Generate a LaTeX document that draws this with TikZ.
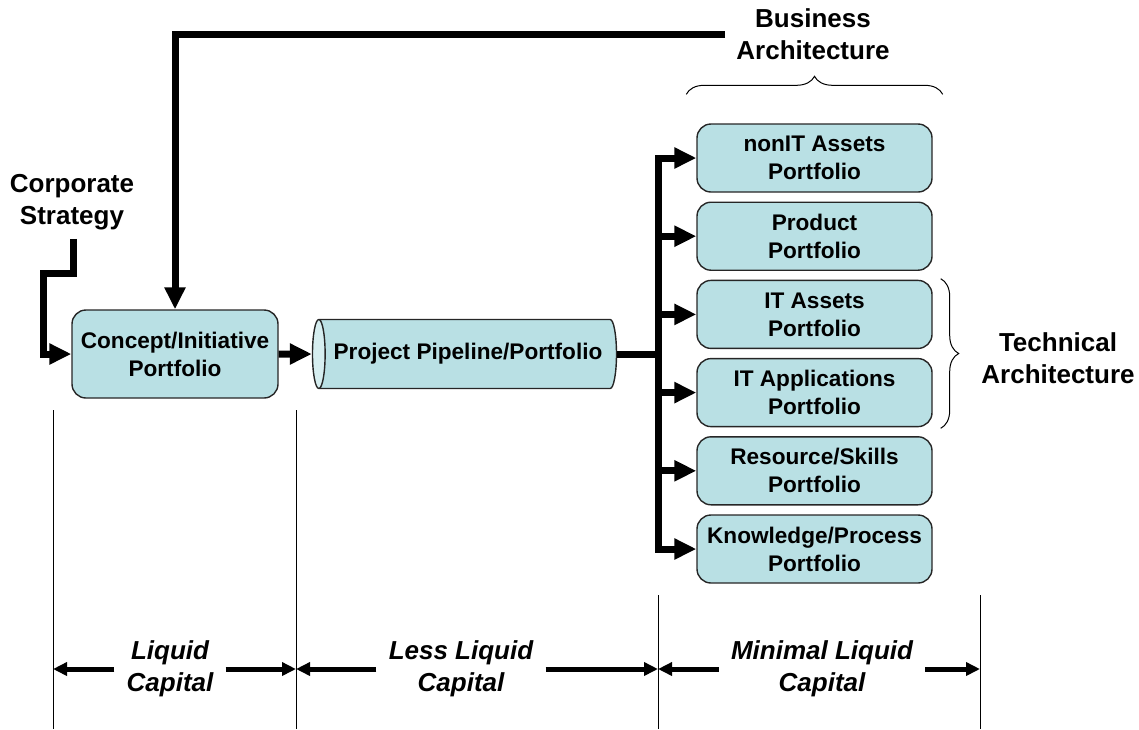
\documentclass[tikz,border=0pt]{standalone}
\usepackage{fontspec}
\setmainfont{Liberation Sans}
\usetikzlibrary{positioning,arrows.meta,shapes.geometric,decorations.pathreplacing}
\definecolor{portfill}{RGB}{185,224,228}
\definecolor{pipeend}{RGB}{214,238,240}
\tikzset{%
  >={Triangle[length=11pt,width=10pt]},
  portbox/.style={draw=black!85,fill=portfill,rounded corners=7pt,line width=0.7pt,
    align=center,font=\bfseries\fontsize{11.3}{14}\selectfont,
    minimum width=117.5pt,minimum height=34pt,inner sep=0pt},
  flow/.style={line width=3.5pt},
  spanarrow/.style={line width=2.5pt,-{Triangle[length=7pt,width=6.5pt]}},
  divider/.style={line width=0.5pt},
  heading/.style={align=center,font=\bfseries\fontsize{13}{16}\selectfont},
  caplabel/.style={align=center,font=\bfseries\itshape\fontsize{13}{16}\selectfont,
    inner xsep=6pt},
  archbrace/.style={decorate,decoration={brace,amplitude=9pt},line width=0.5pt}
}

\begin{document}
\begin{tikzpicture}[x=0.5pt,y=-0.5pt]
\useasboundingbox (0,0) rectangle (1139,729);

%% the portfolios
\node[portbox,minimum width=103pt,minimum height=44pt] (concept) at (175,354)
  {Concept/Initiative\\Portfolio};
\node[cylinder,shape border rotate=180,draw=black!85,line width=0.7pt,
  cylinder uses custom fill,cylinder body fill=portfill,cylinder end fill=pipeend,
  aspect=0.6,minimum width=34.5pt,minimum height=152pt,inner sep=0pt,
  font=\bfseries\fontsize{11.3}{14}\selectfont] (pipe) at (468,354)
  {Project Pipeline/Portfolio};
\foreach \name/\txt [count=\i from 0] in {%
    nonit/{nonIT Assets\\Portfolio},
    product/{Product\\Portfolio},
    itassets/{IT Assets\\Portfolio},
    itapps/{IT Applications\\Portfolio},
    resskill/{Resource/Skills\\Portfolio},
    knowproc/{Knowledge/Process\\Portfolio}}
  \node[portbox] (\name) at (814.5,{158+78.2*\i}) {\txt};

%% labels
\node[heading] (corp) at (72,202) {Corporate\\Strategy};
\node[heading] (bizarch) at (813,34) {Business\\Architecture};
\node[heading] (techarch) at (1058,358) {Technical\\Architecture};

%% strategy inputs
\coordinate (corpjog) at (73,273);
\coordinate (corpleft) at (43,273);
\draw[flow,->] ([yshift=-1pt]corp.south -| corpjog) -- (corpjog) -- (corpleft)
  |- (concept.west);
\coordinate (bizend) at (725,34);
\draw[flow,->] (bizend) -| (concept.north);

%% pipeline flow
\draw[flow,->] (concept.east) -- (pipe.west);
\coordinate (busmid) at (658,354);
\draw[flow] (pipe.east) -- (busmid);
\draw[flow,line cap=rect] (nonit.west -| busmid) -- (knowproc.west -| busmid);
\foreach \name in {nonit,product,itassets,itapps,resskill,knowproc}
  \draw[flow,->] (\name.west -| busmid) -- (\name.west);

%% braces
\draw[archbrace] ([xshift=-5pt,yshift=14.5pt]nonit.north west)
  -- ([xshift=5pt,yshift=14.5pt]nonit.north east);
\draw[archbrace] ([xshift=4pt,yshift=0.5pt]itassets.north east)
  -- ([xshift=4pt,yshift=-0.5pt]itapps.south east);

%% liquidity ranges
\coordinate (d1) at (53,667);
\coordinate (d2) at (296,667);
\coordinate (d3) at (658,667);
\coordinate (d4) at (980,667);
\draw[divider] (53,410) -- (53,729);
\draw[divider] (296,410) -- (296,729);
\draw[divider] (658,595) -- (658,729);
\draw[divider] (980,595) -- (980,729);
\node[caplabel] (liq) at (170,669) {Liquid\\Capital};
\node[caplabel] (lessliq) at (461,669) {Less Liquid\\Capital};
\node[caplabel] (minliq) at (822,669) {Minimal Liquid\\Capital};
\draw[spanarrow] (liq.west) -- (liq.west -| d1);
\draw[spanarrow] (liq.east) -- (liq.east -| d2);
\draw[spanarrow] (lessliq.west) -- (lessliq.west -| d2);
\draw[spanarrow] (lessliq.east) -- (lessliq.east -| d3);
\draw[spanarrow] (minliq.west) -- (minliq.west -| d3);
\draw[spanarrow] (minliq.east) -- (minliq.east -| d4);
\end{tikzpicture}
\end{document}
